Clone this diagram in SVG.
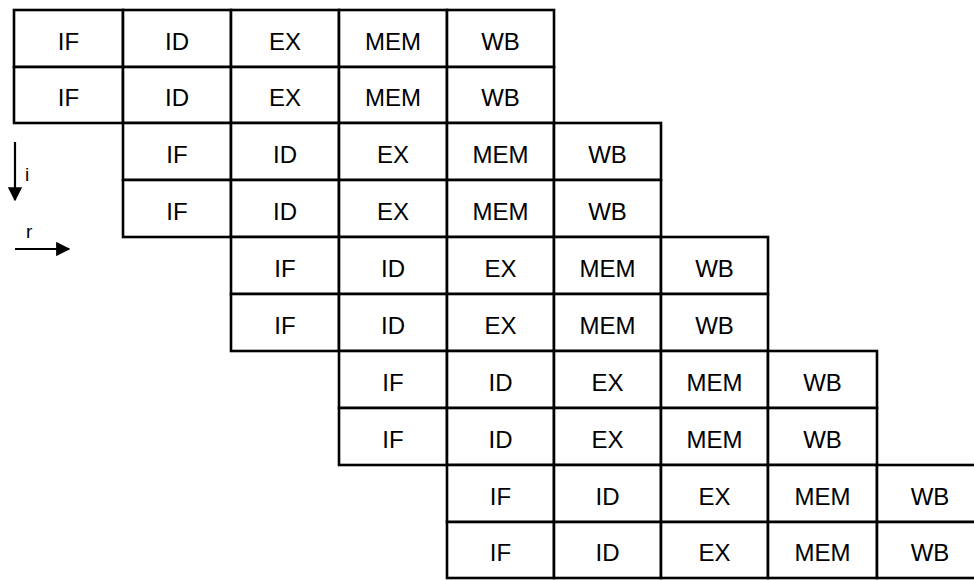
<svg xmlns="http://www.w3.org/2000/svg" width="974" height="581" viewBox="0 0 974 581">
<style>
.c{fill:#fff;stroke:#000;stroke-width:2.6}
.t{font-family:"Liberation Sans",Arial,sans-serif;font-size:24px;fill:#000;text-anchor:middle}
.s{font-family:"Liberation Sans",Arial,sans-serif;font-size:19px;fill:#000}
.a{stroke:#000;stroke-width:2.2;fill:none}
</style>
<defs>
<marker id="ah" viewBox="0 0 10 10" refX="9" refY="5" markerWidth="6.5" markerHeight="6.5" orient="auto" markerUnits="strokeWidth">
<path d="M0,0 L10,5 L0,10 z" fill="#000"/>
</marker>
</defs>
<rect width="974" height="581" fill="#fff"/>
<g id="pair0">
<g id="r0c0"><rect class="c" x="14" y="10" width="109" height="57"/><text class="t" x="68.5" y="50">IF</text></g>
<g id="r0c1"><rect class="c" x="123" y="10" width="108" height="57"/><text class="t" x="177" y="50">ID</text></g>
<g id="r0c2"><rect class="c" x="231" y="10" width="108" height="57"/><text class="t" x="285" y="50">EX</text></g>
<g id="r0c3"><rect class="c" x="339" y="10" width="108" height="57"/><text class="t" x="393" y="50">MEM</text></g>
<g id="r0c4"><rect class="c" x="447" y="10" width="107" height="57"/><text class="t" x="500.5" y="50">WB</text></g>
<g id="r1c0"><rect class="c" x="14" y="67" width="109" height="56"/><text class="t" x="68.5" y="106">IF</text></g>
<g id="r1c1"><rect class="c" x="123" y="67" width="108" height="56"/><text class="t" x="177" y="106">ID</text></g>
<g id="r1c2"><rect class="c" x="231" y="67" width="108" height="56"/><text class="t" x="285" y="106">EX</text></g>
<g id="r1c3"><rect class="c" x="339" y="67" width="108" height="56"/><text class="t" x="393" y="106">MEM</text></g>
<g id="r1c4"><rect class="c" x="447" y="67" width="107" height="56"/><text class="t" x="500.5" y="106">WB</text></g>
</g>
<g id="pair1">
<g id="r2c1"><rect class="c" x="123" y="123" width="108" height="57"/><text class="t" x="177" y="163">IF</text></g>
<g id="r2c2"><rect class="c" x="231" y="123" width="108" height="57"/><text class="t" x="285" y="163">ID</text></g>
<g id="r2c3"><rect class="c" x="339" y="123" width="108" height="57"/><text class="t" x="393" y="163">EX</text></g>
<g id="r2c4"><rect class="c" x="447" y="123" width="107" height="57"/><text class="t" x="500.5" y="163">MEM</text></g>
<g id="r2c5"><rect class="c" x="554" y="123" width="107" height="57"/><text class="t" x="607.5" y="163">WB</text></g>
<g id="r3c1"><rect class="c" x="123" y="180" width="108" height="57"/><text class="t" x="177" y="220">IF</text></g>
<g id="r3c2"><rect class="c" x="231" y="180" width="108" height="57"/><text class="t" x="285" y="220">ID</text></g>
<g id="r3c3"><rect class="c" x="339" y="180" width="108" height="57"/><text class="t" x="393" y="220">EX</text></g>
<g id="r3c4"><rect class="c" x="447" y="180" width="107" height="57"/><text class="t" x="500.5" y="220">MEM</text></g>
<g id="r3c5"><rect class="c" x="554" y="180" width="107" height="57"/><text class="t" x="607.5" y="220">WB</text></g>
</g>
<g id="pair2">
<g id="r4c2"><rect class="c" x="231" y="237" width="108" height="57"/><text class="t" x="285" y="277">IF</text></g>
<g id="r4c3"><rect class="c" x="339" y="237" width="108" height="57"/><text class="t" x="393" y="277">ID</text></g>
<g id="r4c4"><rect class="c" x="447" y="237" width="107" height="57"/><text class="t" x="500.5" y="277">EX</text></g>
<g id="r4c5"><rect class="c" x="554" y="237" width="107" height="57"/><text class="t" x="607.5" y="277">MEM</text></g>
<g id="r4c6"><rect class="c" x="661" y="237" width="107" height="57"/><text class="t" x="714.5" y="277">WB</text></g>
<g id="r5c2"><rect class="c" x="231" y="294" width="108" height="57"/><text class="t" x="285" y="334">IF</text></g>
<g id="r5c3"><rect class="c" x="339" y="294" width="108" height="57"/><text class="t" x="393" y="334">ID</text></g>
<g id="r5c4"><rect class="c" x="447" y="294" width="107" height="57"/><text class="t" x="500.5" y="334">EX</text></g>
<g id="r5c5"><rect class="c" x="554" y="294" width="107" height="57"/><text class="t" x="607.5" y="334">MEM</text></g>
<g id="r5c6"><rect class="c" x="661" y="294" width="107" height="57"/><text class="t" x="714.5" y="334">WB</text></g>
</g>
<g id="pair3">
<g id="r6c3"><rect class="c" x="339" y="351" width="108" height="57"/><text class="t" x="393" y="391">IF</text></g>
<g id="r6c4"><rect class="c" x="447" y="351" width="107" height="57"/><text class="t" x="500.5" y="391">ID</text></g>
<g id="r6c5"><rect class="c" x="554" y="351" width="107" height="57"/><text class="t" x="607.5" y="391">EX</text></g>
<g id="r6c6"><rect class="c" x="661" y="351" width="107" height="57"/><text class="t" x="714.5" y="391">MEM</text></g>
<g id="r6c7"><rect class="c" x="768" y="351" width="109" height="57"/><text class="t" x="822.5" y="391">WB</text></g>
<g id="r7c3"><rect class="c" x="339" y="408" width="108" height="57"/><text class="t" x="393" y="448">IF</text></g>
<g id="r7c4"><rect class="c" x="447" y="408" width="107" height="57"/><text class="t" x="500.5" y="448">ID</text></g>
<g id="r7c5"><rect class="c" x="554" y="408" width="107" height="57"/><text class="t" x="607.5" y="448">EX</text></g>
<g id="r7c6"><rect class="c" x="661" y="408" width="107" height="57"/><text class="t" x="714.5" y="448">MEM</text></g>
<g id="r7c7"><rect class="c" x="768" y="408" width="109" height="57"/><text class="t" x="822.5" y="448">WB</text></g>
</g>
<g id="pair4">
<g id="r8c4"><rect class="c" x="447" y="465" width="107" height="57"/><text class="t" x="500.5" y="505">IF</text></g>
<g id="r8c5"><rect class="c" x="554" y="465" width="107" height="57"/><text class="t" x="607.5" y="505">ID</text></g>
<g id="r8c6"><rect class="c" x="661" y="465" width="107" height="57"/><text class="t" x="714.5" y="505">EX</text></g>
<g id="r8c7"><rect class="c" x="768" y="465" width="109" height="57"/><text class="t" x="822.5" y="505">MEM</text></g>
<g id="r8c8"><rect class="c" x="877" y="465" width="110" height="57"/><text class="t" x="930" y="505">WB</text></g>
<g id="r9c4"><rect class="c" x="447" y="522" width="107" height="56"/><text class="t" x="500.5" y="561">IF</text></g>
<g id="r9c5"><rect class="c" x="554" y="522" width="107" height="56"/><text class="t" x="607.5" y="561">ID</text></g>
<g id="r9c6"><rect class="c" x="661" y="522" width="107" height="56"/><text class="t" x="714.5" y="561">EX</text></g>
<g id="r9c7"><rect class="c" x="768" y="522" width="109" height="56"/><text class="t" x="822.5" y="561">MEM</text></g>
<g id="r9c8"><rect class="c" x="877" y="522" width="110" height="56"/><text class="t" x="930" y="561">WB</text></g>
</g>
<g id="connectors">
<line class="a" x1="15" y1="142" x2="15" y2="200" marker-end="url(#ah)"/>
<line class="a" x1="15" y1="249" x2="69" y2="249" marker-end="url(#ah)"/>
</g>
<g id="labels">
<text class="s" x="25" y="181">i</text>
<text class="s" x="26" y="238">r</text>
</g>
</svg>
